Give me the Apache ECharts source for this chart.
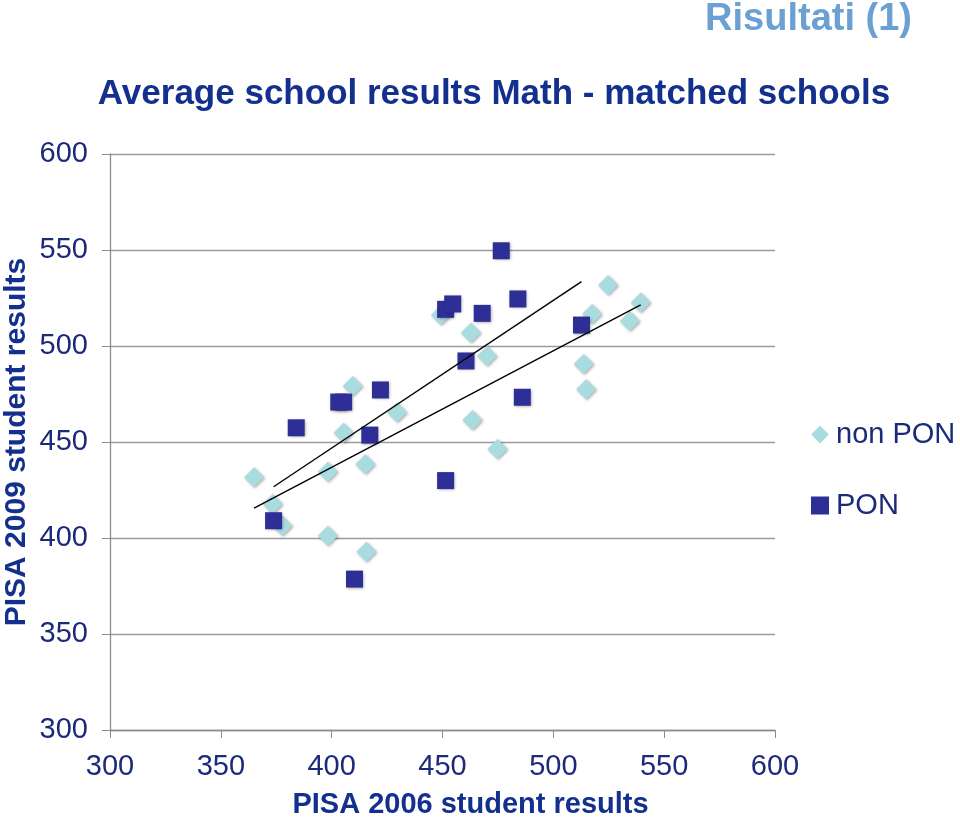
<!DOCTYPE html>
<html><head><meta charset="utf-8">
<script src="https://cdn.jsdelivr.net/npm/echarts@6/dist/echarts.min.js"></script>
<style>html,body{margin:0;padding:0;background:#fff}#c{width:960px;height:817px}</style>
</head><body><div id="c"></div>
<script>
// PISA 2006 (x) vs PISA 2009 (y)
const nonPonX = [365.0,373.4,377.8,398.3,398.3,405.4,409.5,415.2,415.7,429.5,449.3,462.8,470.1,463.5,474.8,513.7,514.8,517.5,524.7,534.5,539.4];
const nonPonY = [431.6,417.7,406.4,401.2,434.5,454.8,479.2,438.4,392.9,465.5,516.1,506.9,494.8,461.5,446.4,490.6,477.5,516.7,531.8,513.0,522.6];
const ponX = [384.0,403.2,405.4,417.2,422.0,373.8,410.3,451.4,454.6,467.9,476.5,484.0,460.6,486.0,451.4,512.7];
const ponY = [457.4,470.8,470.8,453.6,477.1,409.0,378.6,519.1,521.9,517.0,549.6,524.5,492.2,473.3,429.9,510.9];
// trend lines (end points)
const ponTrendX = [373.8,512.7];
const ponTrendY = [426.7,533.5];
const nonTrendX = [365.0,539.4];
const nonTrendY = [415.5,521.4];
const ticks = [300,350,400,450,500,550,600];

const zip = (a,b)=>a.map((v,i)=>[v,b[i]]);
const navy = '#1c2a7a';
const font = "'Liberation Sans',Arial,sans-serif";
const shadow = {opacity:1, shadowBlur:3, shadowColor:'rgba(0,0,0,0.35)', shadowOffsetX:1, shadowOffsetY:1};
const chart = echarts.init(document.getElementById('c'), null, {renderer:'canvas'});
chart.setOption({
  animation:false,
  backgroundColor:'#fff',
  title:[
    {text:'Average school results Math - matched schools', left:489, top:72, textAlign:'center',
     textStyle:{fontFamily:font, fontWeight:'bold', fontSize:35, color:'#14308f'}},
    {text:'Risultati (1)', right:43, top:-4,
     textStyle:{fontFamily:font, fontWeight:'bold', fontSize:38, color:'#6aa0d2'}}
  ],
  legend:{
    orient:'vertical', left:806, top:415, itemGap:42, itemWidth:18, itemHeight:18,
    data:[{name:'non PON', icon:'diamond'},{name:'PON', icon:'rect'}],
    textStyle:{fontFamily:font, fontSize:29, color:navy, padding:[0,0,0,2]}
  },
  grid:{left:110, right:185, top:154, bottom:87, containLabel:false, outerBoundsMode:'none'},
  xAxis:{
    type:'value', min:ticks[0], max:ticks[ticks.length-1], interval:50,
    name:'PISA 2006 student results', nameLocation:'middle', nameGap:60,
    nameTextStyle:{fontFamily:font, fontWeight:'bold', fontSize:29, color:'#14308f', padding:[0,0,0,56]},
    axisLine:{show:true, lineStyle:{color:'#8c8c8c', width:1.3}},
    axisTick:{show:true, length:8, lineStyle:{color:'#8c8c8c'}},
    splitLine:{show:false},
    axisLabel:{fontFamily:font, fontSize:29, color:navy, margin:22}
  },
  yAxis:{
    type:'value', min:ticks[0], max:ticks[ticks.length-1], interval:50,
    name:'PISA 2009 student results', nameLocation:'middle', nameGap:78, nameRotate:90,
    nameMoveOverlap:false,
    nameTextStyle:{fontFamily:font, fontWeight:'bold', fontSize:30, color:'#14308f'},
    axisLine:{show:true, lineStyle:{color:'#8c8c8c', width:1.3}},
    axisTick:{show:true, length:8, lineStyle:{color:'#8c8c8c'}},
    splitLine:{show:true, lineStyle:{color:'#9c9c9c', width:1.3}},
    axisLabel:{fontFamily:font, fontSize:29, color:navy, margin:22}
  },
  series:[
    {name:'non PON', type:'scatter', symbol:'diamond', symbolSize:20, data:zip(nonPonX,nonPonY),
     itemStyle:Object.assign({color:'#a9dcdf'},shadow), z:2},
    {name:'PON', type:'scatter', symbol:'rect', symbolSize:17, data:zip(ponX,ponY),
     itemStyle:Object.assign({color:'#2e2f96'},shadow), z:3},
    {name:'trendPON', type:'line', data:zip(ponTrendX,ponTrendY), showSymbol:false, symbol:'none',
     lineStyle:{color:'#000', width:1.4}, z:4, silent:true},
    {name:'trendNon', type:'line', data:zip(nonTrendX,nonTrendY), showSymbol:false, symbol:'none',
     lineStyle:{color:'#000', width:1.4}, z:4, silent:true}
  ]
});
</script></body></html>
